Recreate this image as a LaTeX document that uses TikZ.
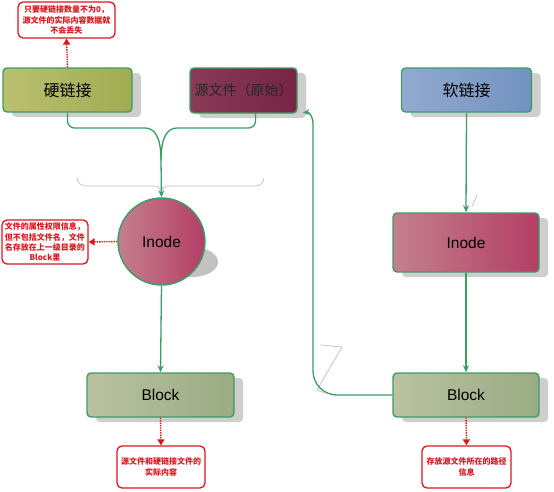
\documentclass[tikz,border=0pt]{standalone}
\usepackage{fontspec}
\setmainfont{Liberation Sans}
\newfontfamily\cjk{Noto Sans CJK SC}
\usetikzlibrary{shadows,arrows.meta,shapes.geometric}
\definecolor{gb}{RGB}{58,158,100}
\definecolor{rednote}{RGB}{222,20,30}
\definecolor{hlA}{RGB}{186,192,112}
\definecolor{hlB}{RGB}{160,172,82}
\definecolor{srcA}{RGB}{136,58,86}
\definecolor{srcB}{RGB}{118,38,68}
\definecolor{slA}{RGB}{146,170,208}
\definecolor{slB}{RGB}{114,146,192}
\definecolor{inA}{RGB}{196,128,142}
\definecolor{inB}{RGB}{180,62,102}
\definecolor{blA}{RGB}{186,194,160}
\definecolor{blB}{RGB}{154,172,132}
\tikzset{
  box/.style={draw=gb, line width=1.4pt, rounded corners=4pt, inner sep=0pt,
    drop shadow={shadow xshift=9pt, shadow yshift=-5pt, opacity=0.35, fill=black!55}},
  note/.style={draw=rednote, line width=1.3pt, rounded corners=5pt, fill=white, inner sep=0pt,
    text=rednote, font=\cjk\bfseries\fontsize{8}{10.2}\selectfont, align=center},
  gl/.style={draw=gb, line width=1.3pt},
  garr/.style={gl, -{Stealth[length=7pt,width=6pt]}},
  rarr/.style={draw=rednote, line width=1.4pt, densely dotted, -{Triangle[length=6pt,width=7pt]}},
  ghost/.style={draw=black!25, line width=0.7pt},
  big/.style={font=\cjk\fontsize{16}{18}\selectfont},
  lat/.style={font=\fontsize{15.5}{18}\selectfont},
}
\begin{document}
\begin{tikzpicture}[x=1pt,y=-1pt]
\useasboundingbox (0,0) rectangle (554,491);
% faint artifacts
\draw[ghost] (77,178) .. controls (78,184) and (81,186) .. (88,186) -- (153,186) .. controls (158,186) and (160,188) .. (161,192) .. controls (162,188) and (164,186) .. (169,186) -- (254,186) .. controls (261,186) and (263,183) .. (264,178);
\draw[ghost] (320,345) -- (342,347) -- (317,390) -- (325,393);
\draw[ghost] (477,195) -- (472,207);
% nodes
\node[box, big, minimum width=129pt, minimum height=44pt, left color=hlA, right color=hlB] (hl) at (67.5,90) {硬链接};
\node[box, minimum width=107pt, minimum height=45pt, left color=srcA, right color=srcB,
  font=\cjk\fontsize{14}{16}\selectfont, text=black!85] (src) at (243.5,90.5) {源文件（原始）};
\node[box, big, minimum width=130pt, minimum height=44pt, left color=slA, right color=slB] (sl) at (466.5,90) {软链接};
\fill[black!40, opacity=0.6] (192,262) ellipse [x radius=26pt, y radius=15pt];
\node[circle, draw=gb, line width=1.4pt, minimum size=87pt, inner sep=0pt, lat,
  left color=inA, right color=inB] (inode) at (161.5,241.5) {Inode};
\node[box, lat, minimum width=146pt, minimum height=59pt, left color=inA, right color=inB] (inr) at (466,242.5) {Inode};
\node[box, lat, minimum width=147pt, minimum height=44pt, left color=blA, right color=blB] (lb) at (160.5,395) {Block};
\node[box, lat, minimum width=146pt, minimum height=44pt, left color=blA, right color=blB] (rb) at (466,395) {Block};
% notes
\node[note, minimum width=97pt, minimum height=36pt] (n1) at (66.5,20) {只要硬链接数量不为0，\\源文件的实际内容数据就\\不会丢失};
\node[note, minimum width=86pt, minimum height=44pt] (n2) at (45,242) {文件的属性权限信息，\\但不包括文件名，文件\\名存放在上一级目录的\\Block里};
\node[note, minimum width=88pt, minimum height=42pt] (n3) at (161,467) {源文件和硬链接文件的\\实际内容};
\node[note, minimum width=89pt, minimum height=42pt] (n4) at (466.5,467) {存放源文件所在的路径\\信息};
% merge into inode
\coordinate (m) at (161,160);
\draw[gl, rounded corners=7pt] (hl.south) -- (67.5,128) -- (138,128) [sharp corners] .. controls (154,128) and (161,136) .. (m);
\draw[gl, rounded corners=7pt] ([xshift=12pt]src.south) -- (255.5,128) -- (184,128) [sharp corners] .. controls (168,128) and (161,136) .. (m);
\draw[garr] (m) -- (inode.north);
\draw[garr] (inode.south) -- (lb.north);
\draw[garr] (sl.south) -- (inr.north);
\draw[garr] (inr.south) -- (rb.north);
\draw[garr, rounded corners=24pt] (rb.west) -- (313,395) [sharp corners] -- (313,124) .. controls (313,116) and (309,112) .. ([xshift=5pt,yshift=1pt]src.south east);
% red notes arrows
\draw[rarr] (hl.north) -- (n1.south);
\draw[rarr] (inode.west) -- (n2.east);
\draw[rarr] (lb.south) -- (n3.north);
\draw[rarr] (rb.south) -- (n4.north);
\end{tikzpicture}
\end{document}
